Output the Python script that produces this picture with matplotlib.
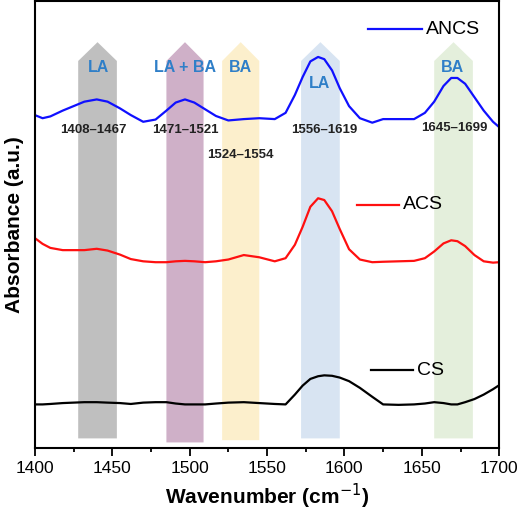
import matplotlib
matplotlib.use("Agg")
import matplotlib.pyplot as plt
from matplotlib.patches import Polygon
plt.rcParams['font.family'] = ['Liberation Sans', 'DejaVu Sans']

wn = [1400,1405,1410,1418,1425,1432,1440,1447,1455,1462,1470,1478,1485,1491,1497,1503,1510,1517,1525,1535,1545,1555,1562,1568,1573,1578,1583,1587,1592,1597,1603,1610,1618,1625,1635,1645,1652,1658,1664,1669,1673,1678,1684,1690,1696,1700]
ancs = [74.5,73.8,74.2,75.5,76.5,77.5,78,77.5,76,74.5,73,73.5,75.5,77.3,78,77.3,75.8,74.3,73.3,73.6,73.8,73.6,75,79,83,86.5,87.5,87,84.5,80.5,76.5,73.8,72.8,73.6,73.6,73.6,75,77.5,81,82.8,82.8,81.5,78.5,75.5,73,71.8]
acs = [47,45.7,44.8,44.3,44.3,44.3,44.6,44.2,43.3,42.3,41.8,41.6,41.6,41.8,41.9,41.8,41.6,41.8,42.2,43.2,42.7,41.8,42.5,45.5,49.5,54,55.9,55.5,53,49,44.5,42.2,41.6,41.7,41.8,41.9,42.5,44,45.8,46.5,46.3,45.2,43.2,41.8,41.5,41.6]
cs = [9.8,9.8,9.9,10.1,10.2,10.3,10.3,10.2,10.1,9.9,10.2,10.3,10.3,10,9.8,9.8,9.8,10,10.2,10.3,10.1,9.9,9.8,12,14,15.5,16.1,16.3,16.2,15.8,15,13.5,11.5,9.8,9.7,9.8,10,10.3,10.1,9.8,9.8,10.3,11,12,13.2,14.1]

bands = [(1428,1453,"#8c8c8c"),(1485,1509,"#a86f9c"),(1521,1545,"#fbe3a2"),(1572,1597,"#b8cfe8"),(1658,1683,"#cfe3c0")]
band_bottoms = [2.2,1.3,1.8,2.2,2.2]
band_labels = [("LA",1441,85.2),("LA + BA",1497,85.2),("BA",1533,85.2),("LA",1584,81.5),("BA",1670,85.2)]
ranges = [("1408–1467",1438,71.1),("1471–1521",1497,71.1),("1524–1554",1533,65.5),("1556–1619",1587,71.1),("1645–1699",1671,71.6)]

fig, ax = plt.subplots(figsize=(5.2,5.2), dpi=100)
fig.subplots_adjust(left=0.067, right=0.96, top=0.998, bottom=0.138)
ax.set_xlim(1400,1700); ax.set_ylim(0,100)
for (x0,x1,c),b in zip(bands,band_bottoms):
    xm=(x0+x1)/2
    poly = Polygon([(x0,b),(x1,b),(x1,86.6),(xm,90.8),(x0,86.6)], closed=True, color=c, alpha=0.55, lw=0, zorder=1)
    ax.add_patch(poly)
for t,x,y in band_labels:
    ax.text(x,y,t,color="#2f7fc8",fontsize=11.5,fontweight="bold",ha="center",va="center",zorder=3)
for t,x,y in ranges:
    ax.text(x,y,t,fontsize=9.5,fontweight="bold",color="#222222",ha="center",va="center",zorder=3)
ax.plot(wn,ancs,color="#1010ff",lw=1.6,zorder=2)
ax.plot(wn,acs,color="#ff1010",lw=1.6,zorder=2)
ax.plot(wn,cs,color="black",lw=1.6,zorder=2)
for y,x0,x1,t,c in [(93.7,1615,1650,"ANCS","#1010ff"),(54.4,1608,1635,"ACS","#ff1010"),(17.4,1617,1644,"CS","black")]:
    ax.plot([x0,x1],[y,y],color=c,lw=1.6)
    ax.text(x1+3,y,t,fontsize=14,va="center")
ax.set_yticks([])
ax.set_xticks([1400,1450,1500,1550,1600,1650,1700])
ax.set_xticks([1425,1475,1525,1575,1625,1675],minor=True)
ax.tick_params(axis='x',which='major',labelsize=12.5,length=6,width=1.3)
ax.tick_params(axis='x',which='minor',length=3,width=1.3)
for s in ax.spines.values(): s.set_linewidth(1.5)
ax.set_xlabel("Wavenumber (cm$^{-1}$)",fontsize=15,fontweight="bold")
ax.set_ylabel("Absorbance (a.u.)",fontsize=15,fontweight="bold",labelpad=8)
fig.savefig("out.png")
